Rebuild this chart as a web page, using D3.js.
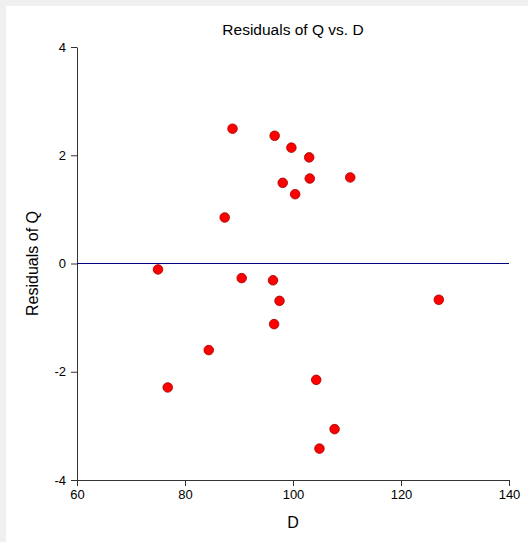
<!DOCTYPE html>
<html>
<head>
<meta charset="utf-8">
<script src="https://cdn.jsdelivr.net/npm/d3@7"></script>
<style>
  body { margin: 0; background: #f0f0f0; }
  svg { display: block; }
  text { font-family: 'Liberation Sans', Arial, sans-serif; fill: #000; }
</style>
</head>
<body>
<svg id="container"></svg>
<script>
const dValues = [75.0, 76.8, 84.4, 87.35, 88.8, 90.5, 96.6, 96.3, 96.5, 97.5,
  98.1, 99.7, 100.4, 103.0, 103.1, 104.3, 104.9, 107.7, 110.6, 127.0]
const residuals = [-0.11, -2.29, -1.6, 0.85, 2.49, -0.27, 2.36, -0.31, -1.12, -0.69,
  1.49, 2.14, 1.28, 1.96, 1.57, -2.15, -3.42, -3.06, 1.59, -0.67]
const xTicks = [60, 80, 100, 120, 140]
const yTicks = [-4, -2, 0, 2, 4]

const W = 528, H = 542
const margin = { top: 47, right: 19, bottom: 62, left: 77 },
  w = W - margin.left - margin.right,
  h = H - margin.top - margin.bottom

const svg = d3.select('#container').attr('width', W).attr('height', H)

// white panel
svg.append('rect').attr('x', 6).attr('y', 6).attr('width', W - 6).attr('height', H - 6).attr('fill', '#fff')

const g = svg.append('g').attr('transform', `translate(${margin.left},${margin.top})`)

const xScale = d3.scaleLinear().domain([60, 140]).range([0, w])
const yScale = d3.scaleLinear().domain([-4, 4]).range([h, 0])

const fmt = (d) => String(d)
const xAxis = g.append('g')
  .attr('transform', `translate(0,${h})`)
  .call(d3.axisBottom(xScale).tickValues(xTicks).tickFormat(fmt).tickSize(6).tickSizeOuter(0).tickPadding(4))
const yAxis = g.append('g')
  .call(d3.axisLeft(yScale).tickValues(yTicks).tickFormat(fmt).tickSize(6).tickSizeOuter(0).tickPadding(5))

for (let ax of [xAxis, yAxis]) {
  ax.selectAll('path, line').attr('stroke', '#333')
  ax.selectAll('text').style('font-size', '13px').attr('fill', '#000')
    .style('font-family', "'Liberation Sans', Arial, sans-serif")
}

// zero reference line
g.append('line')
  .attr('x1', 0).attr('x2', w)
  .attr('y1', yScale(0)).attr('y2', yScale(0))
  .attr('stroke', '#000080').attr('stroke-width', 1)

// points
g.selectAll('.pt')
  .data(dValues)
  .enter()
  .append('circle')
  .attr('class', 'pt')
  .attr('cx', (d) => xScale(d))
  .attr('cy', (d, i) => yScale(residuals[i]))
  .attr('r', 4.8)
  .attr('fill', '#ff0000')
  .attr('stroke', '#a00000')
  .attr('stroke-width', 0.8)

// title and labels
svg.append('text')
  .attr('x', margin.left + w / 2).attr('y', 35)
  .attr('text-anchor', 'middle').style('font-size', '15.5px')
  .text('Residuals of Q vs. D')

svg.append('text')
  .attr('x', margin.left + w / 2).attr('y', 528)
  .attr('text-anchor', 'middle').style('font-size', '16px')
  .text('D')

svg.append('text')
  .attr('transform', `translate(38,${margin.top + h / 2}) rotate(-90)`)
  .attr('text-anchor', 'middle').style('font-size', '16px')
  .text('Residuals of Q')
</script>
</body>
</html>
